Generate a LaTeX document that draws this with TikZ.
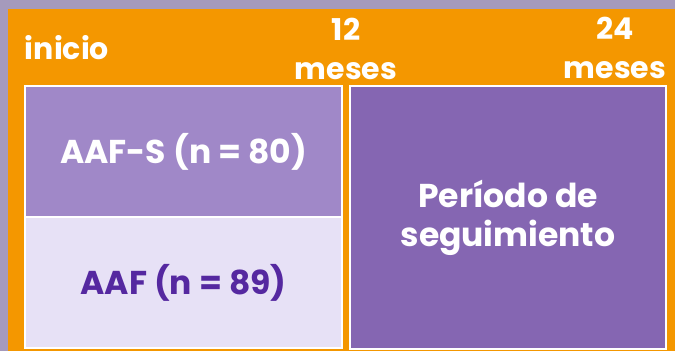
\documentclass[tikz,border=0pt]{standalone}
\usepackage{fontspec}
\setmainfont{Poppins}[BoldFont={* Bold}]
\usepackage{xcolor}
\definecolor{tlorange}{RGB}{244,151,0}
\definecolor{tlshadow}{RGB}{165,154,188}
\definecolor{tlpurple}{RGB}{160,136,200}
\definecolor{tllavender}{RGB}{231,225,246}
\definecolor{tldark}{RGB}{85,40,160}
\definecolor{tlviolet}{RGB}{133,102,178}
\usetikzlibrary{positioning}

\begin{document}
\begin{tikzpicture}[x=1pt, y=-1pt,
    armbox/.style={draw=white, line width=2pt, inner sep=0pt, align=center,
      font=\fontsize{33}{39}\selectfont\bfseries},
    timelabel/.style={text=white, inner sep=0pt, align=center,
      font=\fontsize{30}{39}\selectfont\bfseries}]
  % Background and frame
  \useasboundingbox (0,0) rectangle (675,351);
  \fill[tlshadow] (0,0) rectangle (675,351);
  \fill[tlorange] (8,9) rectangle (675,351);

  % --- Time points ---
  \node[timelabel] (start) at (67,48) {inicio};
  \node[timelabel] (m12) at (346,49) {12\\meses};
  \node[timelabel] (m24) at (615,48) {24\\meses};

  % --- Study arms ---
  \node[armbox, fill=tlpurple, text=white, minimum width=317pt, minimum height=131pt]
    (aafs) at (183.5,151.5) {AAF-S (n = 80)};
  \node[armbox, fill=tllavender, text=tldark, minimum width=317pt, minimum height=131pt]
    (aaf) at (183.5,282.5) {AAF (n = 89)};

  % --- Follow-up ---
  \node[armbox, fill=tlviolet, text=white, minimum width=316pt, minimum height=263pt]
    (follow) at (508,217.5) {Período de\\seguimiento};
\end{tikzpicture}
\end{document}
